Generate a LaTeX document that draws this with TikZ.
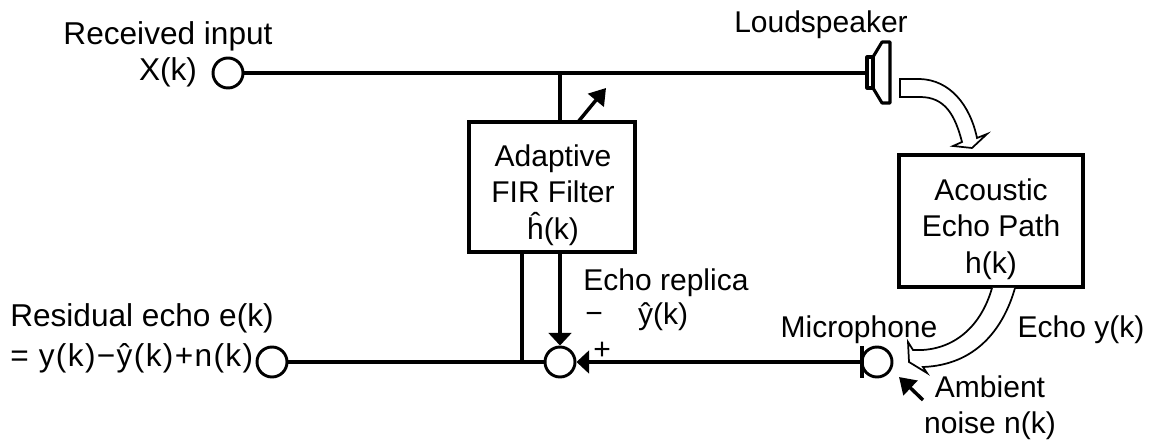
\documentclass[tikz,border=0pt]{standalone}
\usepackage{fontspec}
\setmainfont{Liberation Sans}
\usetikzlibrary{arrows.meta,calc}
\tikzset{
  wirestyle/.style={draw=black,line width=2.6pt},
  blockbox/.style={draw,line width=2.3pt,fill=white,inner sep=0pt},
  port/.style={draw,circle,line width=2.2pt,minimum size=22.5pt,inner sep=0pt,fill=white},
  lbl/.style={font=\fontsize{22.5}{27}\selectfont,inner sep=0pt,align=center},
  biglbl/.style={font=\fontsize{23.7}{27}\selectfont,inner sep=0pt,align=center},
  flowarrow/.style={draw,line width=1.3pt,fill=white,line join=miter},
  headarrow/.style={wirestyle,-{Triangle[length=9.5pt,width=17pt]}},
  tiparrow/.style={line width=2.6pt,-{Triangle[length=12pt,width=15pt]}}
}
\begin{document}
\begin{tikzpicture}[x=0.75pt,y=-0.75pt]
\useasboundingbox (0,0) rectangle (1155,441);
% coordinates
\coordinate (spk) at (867,73);
\coordinate (firtap) at (560,73);
\coordinate (firout) at (560,252);
\coordinate (firin) at (560,122);
\coordinate (sideup) at (522,252);
\coordinate (sidedn) at (522,362);
\coordinate (micbar) at (862,362);
\coordinate (adaptA) at (578,122);
\coordinate (adaptB) at (606,88);
\coordinate (ambA) at (923,400);
\coordinate (ambB) at (899,377);
% ports
\node[port] (rx) at (228,73) {};
\node[port] (res) at (272,362) {};
\node[port] (sum) at (560,362) {};
\node[port] (mic) at (877,362) {};
% connectors
\draw[wirestyle] (rx) -- (spk);
\draw[wirestyle] (firtap) -- (firin);
\draw[wirestyle] (sideup) -- (sidedn);
\draw[wirestyle] (res) -- (sum);
\draw[headarrow] (firout) -- (sum.north);
\draw[headarrow] (micbar) -- (sum.east);
% blocks
\node[blockbox,minimum width=124.5pt,minimum height=97.5pt] (fir) at (552,187) {};
\node[blockbox,minimum width=138pt,minimum height=99pt] (path) at (991,221) {};
\draw[line width=2.3pt] (862,346) -- (862,378);
\draw[tiparrow] (adaptA) -- (adaptB);
\draw[tiparrow] (ambA) -- (ambB);
\draw[line width=2.3pt,line join=round] (867,57) rectangle (873,88);
\draw[line width=2.3pt,line join=round] (873,57) -- (882,42) -- (890,42) -- (890,103) -- (882,103) -- (873,88);
% hollow arrows
\draw[flowarrow] (900,79) -- (920,79) .. controls (950,80) and (970,105) .. (977,138) -- (987,134) -- (972,148) -- (953,146) -- (962,142) .. controls (955,115) and (945,97) .. (920,97) -- (900,97) -- cycle;
\draw[flowarrow] (1015,288) .. controls (1003,330) and (975,365) .. (923,367) -- (927,373) -- (909,362) -- (908,342) -- (913,350) .. controls (950,352) and (980,330) .. (992,288);
% labels
\node[biglbl] (t1) at (168,54) {Received input\\X(k)};
\node[lbl] (t2) at (821,25) {Loudspeaker};
\node[lbl] (t3) at (553,195) {Adaptive\\[0.5pt]FIR Filter\\[0.5pt]ĥ(k)};
\node[lbl] (t4) at (991,229) {Acoustic\\[0.5pt]Echo Path\\[0.5pt]h(k)};
\node[lbl] (t5) at (666,283) {Echo replica};
\node[lbl] (t6) at (594,318) {−};
\node[lbl] (t7) at (663,317) {ŷ(k)};
\node[lbl] (t8) at (602,351) {+};
\node[lbl] (t9) at (859,330) {Microphone};
\node[lbl] (t10) at (1081,330) {Echo y(k)};
\node[lbl] (t11) at (990,408) {Ambient\\noise n(k)};
\node[biglbl,anchor=west] (t12) at (10,318) {Residual echo e(k)};
\node[biglbl,anchor=west] (t13) at (10,358) {\addfontfeature{LetterSpace=4.3}= y(k)−ŷ(k)+n(k)};
\end{tikzpicture}
\end{document}
